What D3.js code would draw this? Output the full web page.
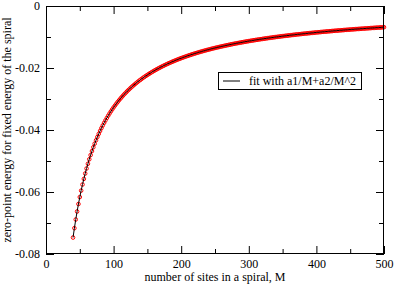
<!DOCTYPE html>
<html><head><meta charset="utf-8">
<script src="https://cdn.jsdelivr.net/npm/d3@7"></script>
<style>body{margin:0;background:#fff}svg{display:block}</style>
</head><body>
<script>
const sitesM = [40,42,44,46,48,50,52,54,56,58,60,62,64,66,68,70,72,74,76,78,80,82,84,86,88,90,92,94,96,98,100,
102,104,106,108,110,112,114,116,118,120,122,124,126,128,130,132,134,136,138,140,
142,144,146,148,150,152,154,156,158,160,162,164,166,168,170,172,174,176,178,180,
182,184,186,188,190,192,194,196,198,200,
202,204,206,208,210,212,214,216,218,220,222,224,226,228,230,232,234,236,238,240,
242,244,246,248,250,252,254,256,258,260,262,264,266,268,270,272,274,276,278,280,
282,284,286,288,290,292,294,296,298,300,
302,304,306,308,310,312,314,316,318,320,322,324,326,328,330,332,334,336,338,340,
342,344,346,348,350,352,354,356,358,360,362,364,366,368,370,372,374,376,378,380,
382,384,386,388,390,392,394,396,398,400,
402,404,406,408,410,412,414,416,418,420,422,424,426,428,430,432,434,436,438,440,
442,444,446,448,450,452,454,456,458,460,462,464,466,468,470,472,474,476,478,480,
482,484,486,488,490,492,494,496,498,500];
const energy = [-0.07469,-0.07167,-0.06887,-0.06629,-0.06388,-0.06164,-0.05955,-0.05759,-0.05576,-0.05404,-0.05242,-0.05089,-0.04945,-0.04809,-0.04680,-0.04557,-0.04441,-0.04331,-0.04225,-0.04125,-0.04030,-0.03938,-0.03851,-0.03768,-0.03688,-0.03611,-0.03538,-0.03467,-0.03399,-0.03334,-0.03271,
-0.03211,-0.03152,-0.03096,-0.03042,-0.02989,-0.02939,-0.02890,-0.02842,-0.02797,-0.02752,-0.02709,-0.02667,-0.02627,-0.02588,-0.02550,-0.02513,-0.02477,-0.02442,-0.02408,-0.02375,
-0.02343,-0.02312,-0.02281,-0.02252,-0.02223,-0.02195,-0.02167,-0.02140,-0.02114,-0.02089,-0.02064,-0.02040,-0.02016,-0.01993,-0.01970,-0.01948,-0.01926,-0.01905,-0.01884,-0.01864,
-0.01844,-0.01825,-0.01806,-0.01787,-0.01769,-0.01751,-0.01733,-0.01716,-0.01699,-0.01683,
-0.01667,-0.01651,-0.01635,-0.01620,-0.01605,-0.01590,-0.01576,-0.01561,-0.01547,-0.01534,-0.01520,-0.01507,-0.01494,-0.01481,-0.01469,-0.01456,-0.01444,-0.01432,-0.01420,-0.01409,
-0.01398,-0.01386,-0.01375,-0.01364,-0.01354,-0.01343,-0.01333,-0.01323,-0.01313,-0.01303,-0.01293,-0.01284,-0.01274,-0.01265,-0.01256,-0.01247,-0.01238,-0.01229,-0.01220,-0.01212,
-0.01203,-0.01195,-0.01187,-0.01179,-0.01171,-0.01163,-0.01155,-0.01147,-0.01140,-0.01132,
-0.01125,-0.01118,-0.01111,-0.01104,-0.01096,-0.01090,-0.01083,-0.01076,-0.01069,-0.01063,-0.01056,-0.01050,-0.01044,-0.01037,-0.01031,-0.01025,-0.01019,-0.01013,-0.01007,-0.01001,
-0.00996,-0.00990,-0.00984,-0.00979,-0.00973,-0.00968,-0.00962,-0.00957,-0.00952,-0.00947,-0.00941,-0.00936,-0.00931,-0.00926,-0.00921,-0.00916,-0.00912,-0.00907,-0.00902,-0.00897,
-0.00893,-0.00888,-0.00884,-0.00879,-0.00875,-0.00870,-0.00866,-0.00862,-0.00857,-0.00853,
-0.00849,-0.00845,-0.00841,-0.00837,-0.00833,-0.00829,-0.00825,-0.00821,-0.00817,-0.00813,-0.00809,-0.00806,-0.00802,-0.00798,-0.00795,-0.00791,-0.00787,-0.00784,-0.00780,-0.00777,
-0.00773,-0.00770,-0.00766,-0.00763,-0.00760,-0.00756,-0.00753,-0.00750,-0.00746,-0.00743,-0.00740,-0.00737,-0.00734,-0.00731,-0.00728,-0.00725,-0.00722,-0.00719,-0.00716,-0.00713,
-0.00710,-0.00707,-0.00704,-0.00701,-0.00698,-0.00696,-0.00693,-0.00690,-0.00687,-0.00684];
const xMajor = [0,100,200,300,400,500];
const xMinor = [50,150,250,350,450];
const yMajor = [0,-0.02,-0.04,-0.06,-0.08];
const yMinor = [-0.01,-0.03,-0.05,-0.07];
const xTitle = "number of sites in a spiral, M";
const yTitle = "zero-point energy for fixed energy of the spiral";
const legendLabel = "fit with a1/M+a2/M^2";

const W = 394, H = 284;
const L = 46, R = 384, T = 6, B = 254;
const font = "'Liberation Serif','Times New Roman',serif";

const svg = d3.select("body").append("svg").attr("width", W).attr("height", H)
  .style("font-family", font);
const x = d3.scaleLinear().domain([0, 500]).range([L, R]);
const y = d3.scaleLinear().domain([-0.08, 0]).range([B, T]);

const pts = sitesM.map((m, i) => [m, energy[i]]);

svg.append("g").selectAll("circle").data(pts).join("circle")
  .attr("cx", d => x(d[0])).attr("cy", d => y(d[1])).attr("r", 1.8)
  .attr("fill", "none").attr("stroke", "#ff0000").attr("stroke-width", 1);

svg.append("path").datum(pts)
  .attr("d", d3.line().x(d => x(d[0])).y(d => y(d[1])).curve(d3.curveMonotoneX))
  .attr("fill", "none").attr("stroke", "#000").attr("stroke-width", 1);

svg.append("rect").attr("x", L + 0.5).attr("y", T + 0.5).attr("width", R - L - 1).attr("height", B - T - 1)
  .attr("fill", "none").attr("stroke", "#000").attr("stroke-width", 1);

const fmtY = d => d === 0 ? "0" : (d < 0 ? "-" : "") + Math.abs(d).toFixed(2);
const axB = d3.axisBottom(x).tickValues(xMajor).tickSize(-8).tickPadding(5).tickFormat(d => String(d));
const axBm = d3.axisBottom(x).tickValues(xMinor).tickSize(-5).tickFormat("");
const axT = d3.axisTop(x).tickValues(xMajor).tickSize(-8).tickFormat("");
const axTm = d3.axisTop(x).tickValues(xMinor).tickSize(-5).tickFormat("");
const axL = d3.axisLeft(y).tickValues(yMajor).tickSize(-8).tickPadding(6).tickFormat(fmtY);
const axLm = d3.axisLeft(y).tickValues(yMinor).tickSize(-5).tickFormat("");
const axR = d3.axisRight(y).tickValues(yMajor).tickSize(-8).tickFormat("");
const axRm = d3.axisRight(y).tickValues(yMinor).tickSize(-5).tickFormat("");

function put(ax, tx, ty) {
  const g = svg.append("g").attr("transform", `translate(${tx},${ty})`).call(ax);
  g.attr("font-family", null).attr("font-size", null);
  g.select(".domain").remove();
  g.selectAll("line").attr("stroke", "#000");
  g.selectAll("text").style("font-family", font).style("font-size", "12px").attr("fill", "#000");
  return g;
}
put(axB, 0, B); put(axBm, 0, B); put(axT, 0, T); put(axTm, 0, T);
put(axL, L, 0); put(axLm, L, 0); put(axR, R, 0); put(axRm, R, 0);

svg.append("text").attr("x", 215).attr("y", 281).attr("text-anchor", "middle")
  .style("font-size", "12px").text(xTitle);
svg.append("text").attr("transform", `translate(11,${(T + B) / 2}) rotate(-90)`).attr("text-anchor", "middle")
  .style("font-size", "12px").text(yTitle);

const lg = svg.append("g");
lg.append("rect").attr("x", 218.5).attr("y", 72.5).attr("width", 143).attr("height", 17)
  .attr("fill", "#fff").attr("stroke", "#000").attr("stroke-width", 1);
lg.append("line").attr("x1", 223).attr("x2", 240).attr("y1", 81).attr("y2", 81).attr("stroke", "#000");
lg.append("text").attr("x", 249).attr("y", 85).style("font-size", "12px").text(legendLabel);
</script>
</body></html>
